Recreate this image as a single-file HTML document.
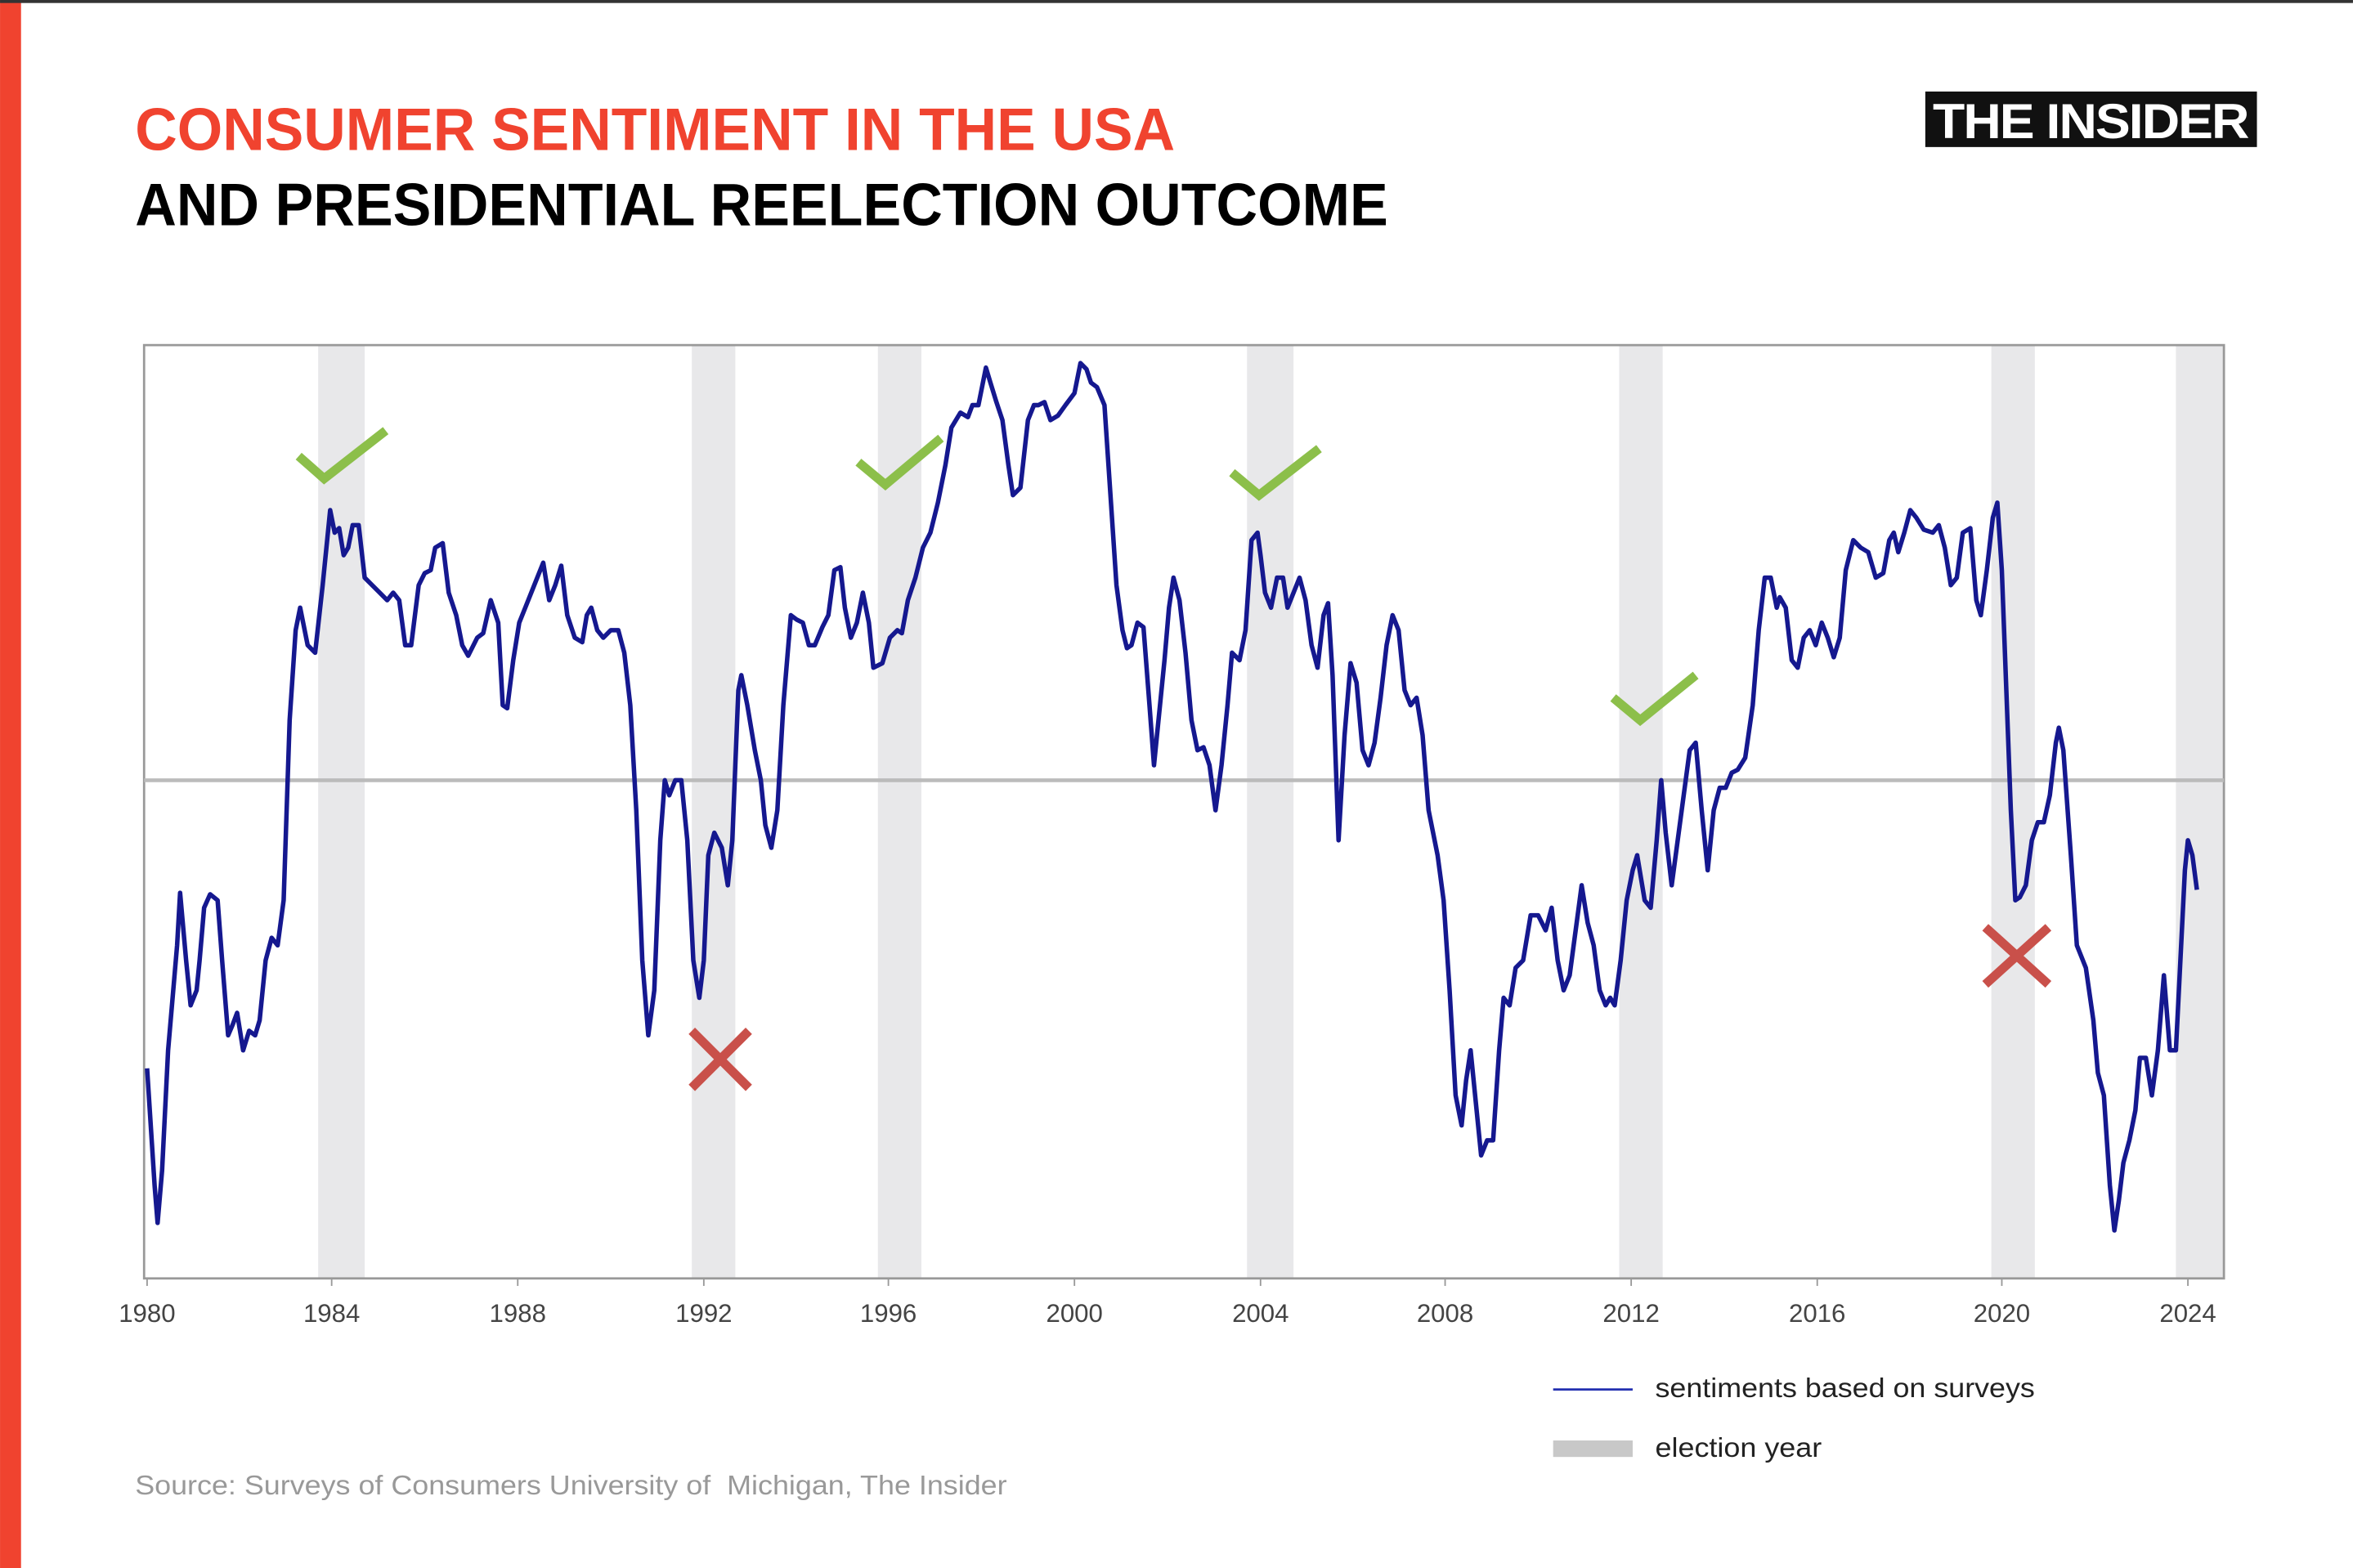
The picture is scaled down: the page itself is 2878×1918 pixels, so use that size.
<!DOCTYPE html>
<html><head><meta charset="utf-8"><style>html,body{margin:0;padding:0;background:#fff}svg{display:block}</style></head>
<body>
<svg width="2878" height="1918" viewBox="0 0 1568 1045" xmlns="http://www.w3.org/2000/svg" font-family="Liberation Sans, Arial, sans-serif">
<rect width="1568" height="1045" fill="#fff"/>
<rect x="0" y="0" width="14" height="1045" fill="#f0432f"/>
<rect x="0" y="0" width="1568" height="2" fill="#333"/>
<text x="90" y="100" font-size="40" font-weight="bold" fill="#f0432f" textLength="693" lengthAdjust="spacingAndGlyphs">CONSUMER SENTIMENT IN THE USA</text>
<text x="90" y="150" font-size="40" font-weight="bold" fill="#000" textLength="835" lengthAdjust="spacingAndGlyphs">AND PRESIDENTIAL REELECTION OUTCOME</text>
<rect x="1283" y="61" width="221" height="37" fill="#111"/>
<text x="1393" y="92" font-size="33" font-weight="bold" fill="#fff" text-anchor="middle" textLength="210" lengthAdjust="spacingAndGlyphs" letter-spacing="-1">THE INSIDER</text>
<g fill="#e8e8ea">
<rect x="212" y="230" width="31" height="622"/>
<rect x="461" y="230" width="29" height="622"/>
<rect x="585" y="230" width="29" height="622"/>
<rect x="831" y="230" width="31" height="622"/>
<rect x="1079" y="230" width="29" height="622"/>
<rect x="1327" y="230" width="29" height="622"/>
<rect x="1450" y="230" width="32" height="622"/>
</g>
<rect x="96" y="230" width="1386" height="622" fill="none" stroke="#999" stroke-width="1.5"/>
<line x1="96" y1="520" x2="1482" y2="520" stroke="#bbb" stroke-width="2.5"/>
<g stroke="#999" stroke-width="1">
<line x1="98" y1="852" x2="98" y2="857"/><line x1="221" y1="852" x2="221" y2="857"/><line x1="345" y1="852" x2="345" y2="857"/><line x1="469" y1="852" x2="469" y2="857"/><line x1="592" y1="852" x2="592" y2="857"/><line x1="716" y1="852" x2="716" y2="857"/><line x1="840" y1="852" x2="840" y2="857"/><line x1="963" y1="852" x2="963" y2="857"/><line x1="1087" y1="852" x2="1087" y2="857"/><line x1="1211" y1="852" x2="1211" y2="857"/><line x1="1334" y1="852" x2="1334" y2="857"/><line x1="1458" y1="852" x2="1458" y2="857"/>
</g>
<g font-size="17" fill="#444" text-anchor="middle">
<text x="98" y="881">1980</text><text x="221" y="881">1984</text><text x="345" y="881">1988</text><text x="469" y="881">1992</text><text x="592" y="881">1996</text><text x="716" y="881">2000</text><text x="840" y="881">2004</text><text x="963" y="881">2008</text><text x="1087" y="881">2012</text><text x="1211" y="881">2016</text><text x="1334" y="881">2020</text><text x="1458" y="881">2024</text>
</g>
<polyline fill="none" stroke="#15188f" stroke-width="3" stroke-linejoin="round" points="98,712 103,790 105,815 108,780 112,700 118,630 120,595 124,640 127,670 131,660 133,640 136,605 140,596 145,600 148,640 152,690 155,683 158,675 162,700 166,687 170,690 173,680 177,640 181,625 185,630 189,600 193,480 197,420 200,405 205,430 210,435 215,390 220,340 223,355 226,352 229,370 232,365 235,350 239,350 243,385 248,390 253,395 258,400 262,395 266,400 270,430 274,430 279,390 283,382 287,380 290,365 295,362 299,395 304,410 308,430 312,437 318,425 322,422 327,400 332,415 335,470 338,472 342,440 346,415 350,405 356,390 362,375 366,400 370,390 374,377 378,410 383,425 388,428 391,410 394,405 398,420 402,425 407,420 412,420 416,435 420,470 424,540 428,640 432,690 436,660 440,560 443,520 446,530 450,520 454,520 458,560 462,640 466,665 469,640 472,570 476,555 481,565 485,590 488,560 492,460 494,450 498,470 503,500 507,520 510,550 514,565 518,540 522,470 527,410 531,413 535,415 539,430 543,430 548,418 552,410 556,380 560,378 563,405 567,425 571,415 575,395 579,415 582,445 588,442 593,425 598,420 601,422 605,400 610,385 615,365 620,355 625,335 630,310 634,285 640,275 645,278 648,270 652,270 657,245 660,255 664,268 668,280 672,310 675,330 680,325 685,280 689,270 692,270 696,268 700,280 705,277 710,270 716,262 720,242 724,246 727,255 731,258 736,270 740,330 744,390 748,420 751,432 754,430 758,415 762,418 766,470 769,510 773,470 776,440 779,405 782,385 786,400 790,435 794,480 798,500 802,498 806,510 810,540 814,510 818,470 821,435 826,440 830,420 834,360 838,355 840,370 843,395 847,405 851,385 855,385 858,405 862,395 866,385 870,400 874,430 878,445 882,410 885,402 888,450 892,560 896,490 900,442 904,455 908,500 912,510 916,495 920,465 924,430 928,410 932,420 936,460 940,470 944,465 948,490 952,540 958,570 962,600 966,660 970,730 974,750 977,720 980,700 984,740 987,770 991,760 995,760 999,700 1002,665 1006,670 1010,645 1015,640 1020,610 1025,610 1030,620 1034,605 1038,640 1042,660 1046,650 1050,620 1054,590 1058,615 1062,630 1066,660 1070,670 1073,665 1076,670 1080,640 1084,600 1088,580 1091,570 1096,600 1100,605 1104,560 1107,520 1110,555 1114,590 1118,560 1122,530 1126,500 1130,495 1134,540 1138,580 1142,540 1146,525 1150,525 1154,515 1158,513 1163,505 1168,470 1172,420 1176,385 1180,385 1184,405 1186,398 1190,405 1194,440 1198,445 1202,425 1206,420 1210,430 1214,415 1218,425 1222,438 1226,425 1230,380 1235,360 1240,365 1245,368 1250,385 1255,382 1259,360 1262,355 1265,368 1269,355 1273,340 1277,345 1282,353 1288,355 1292,350 1296,365 1300,390 1304,385 1308,355 1313,352 1317,400 1320,410 1324,380 1328,345 1331,335 1334,380 1337,460 1340,540 1343,600 1346,598 1350,590 1354,560 1358,548 1362,548 1366,530 1370,495 1372,485 1375,500 1380,570 1384,630 1390,645 1395,680 1398,715 1402,730 1406,790 1409,820 1412,800 1415,775 1419,760 1423,740 1426,705 1430,705 1434,730 1438,700 1442,650 1446,700 1450,700 1453,640 1456,580 1458,560 1461,570 1464,593"/>
<g fill="none" stroke="#8cbf4a" stroke-width="6">
<polyline points="199,304 216,319 257,287"/>
<polyline points="572,308 590,323 627,292"/>
<polyline points="821,315 839,330 879,299"/>
<polyline points="1075,465 1093,480 1130,450"/>
</g>
<g stroke="#c9504a" stroke-width="6">
<line x1="461" y1="687" x2="499" y2="725"/><line x1="499" y1="687" x2="461" y2="725"/>
<line x1="1323" y1="618" x2="1365" y2="656"/><line x1="1365" y1="618" x2="1323" y2="656"/>
</g>
<line x1="1035" y1="926" x2="1088" y2="926" stroke="#2330b0" stroke-width="1.5"/>
<text x="1103" y="931" font-size="18" fill="#222" textLength="253" lengthAdjust="spacingAndGlyphs">sentiments based on surveys</text>
<rect x="1035" y="960" width="53" height="11" fill="#c8c8c8"/>
<text x="1103" y="971" font-size="18" fill="#222" textLength="111" lengthAdjust="spacingAndGlyphs">election year</text>
<text x="90" y="996" font-size="18" fill="#999" textLength="581" lengthAdjust="spacingAndGlyphs" xml:space="preserve">Source: Surveys of Consumers University of  Michigan, The Insider</text>
</svg>
</body></html>
